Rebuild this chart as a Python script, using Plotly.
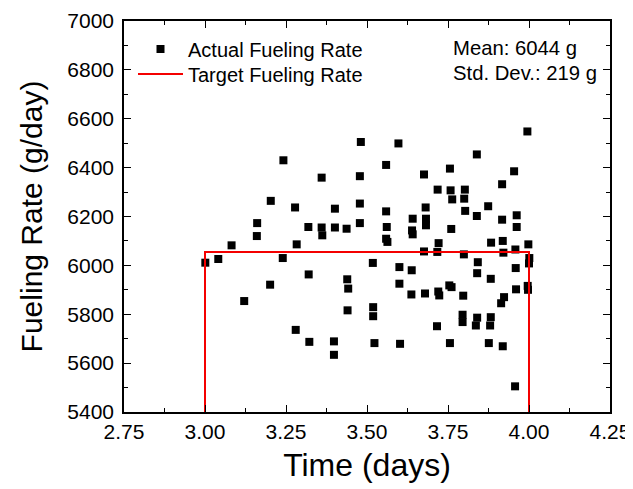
import plotly.graph_objects as go

# Actual fueling rate samples (time in days, rate in g/day)
time_days = [
    3.001, 3.041, 3.082, 3.121, 3.161, 3.160, 3.203, 3.201, 3.242, 3.240,
    3.278, 3.283, 3.280, 3.319, 3.320, 3.322, 3.360, 3.360, 3.362, 3.401,
    3.401, 3.398, 3.398, 3.437, 3.439, 3.442, 3.440, 3.481, 3.478, 3.478,
    3.478, 3.518, 3.519, 3.519, 3.523, 3.559, 3.559, 3.561, 3.559, 3.563,
    3.597, 3.600, 3.600, 3.602, 3.641, 3.639, 3.641, 3.638, 3.637, 3.676,
    3.681, 3.682, 3.682, 3.676, 3.679, 3.718, 3.721, 3.717, 3.720, 3.723,
    3.716, 3.756, 3.758, 3.763, 3.760, 3.754, 3.761, 3.756, 3.802, 3.800,
    3.803, 3.799, 3.797, 3.795, 3.795, 3.839, 3.839, 3.842, 3.840, 3.840,
    3.836, 3.874, 3.883, 3.882, 3.882, 3.880, 3.876, 3.917, 3.917, 3.919,
    3.921, 3.923, 3.914, 3.919, 3.954, 3.962, 3.962, 3.958, 3.959, 3.960,
    3.957, 3.995, 3.998, 4.001, 4.000, 3.996, 3.997,
]
fueling_rate = [
    6011, 6026, 6082, 5854, 6173, 6120, 6264, 5921, 6430, 6030,
    6237, 6086, 5736, 6157, 5963, 5687, 6359, 6155, 6123, 6232,
    6155, 5689, 5634, 6150, 5943, 5905, 5816, 6505, 6365, 6253,
    6173, 6010, 5829, 5792, 5682, 6411, 6221, 6157, 6109, 6096,
    6499, 5993, 5925, 5679, 6191, 6143, 6127, 5980, 5881, 6372,
    6237, 6191, 6164, 6057, 5885, 6310, 6091, 6055, 5893, 5877,
    5751, 6396, 6307, 6270, 6149, 5918, 5911, 5682, 6310, 6273,
    6223, 6045, 5876, 5798, 5768, 6454, 6202, 6013, 5968, 5786,
    5754, 6242, 6093, 5945, 5788, 5754, 5682, 6332, 6187, 6100,
    6052, 5870, 5845, 5669, 6385, 6205, 6157, 6065, 5989, 5902,
    5505, 6548, 6086, 6030, 6008, 5916, 5900,
]

# Target fueling rate profile
target_time = [3.0, 3.0, 4.0, 4.0]
target_rate = [5400, 6055, 6055, 5400]

stats_lines = ["Mean: 6044 g", "Std. Dev.: 219 g"]

FONT = "Liberation Sans, Arial, sans-serif"

# figure is drawn 8 px in from the page corner (default body margin)
W, H = 625, 481
L, R, T, B = 116, 23, 13, 77
PW, PH = W - L - R, H - T - B


def px_x(x):
    return (x - L) / PW


def px_y(y):
    return 1 - (y - T) / PH


fig = go.Figure()
fig.add_trace(go.Scatter(
    x=time_days, y=fueling_rate, mode="markers",
    name="Actual Fueling Rate", legend="legend",
    marker=dict(symbol="square", size=8, color="black", line=dict(width=0)),
))
fig.add_trace(go.Scatter(
    x=target_time, y=target_rate, mode="lines",
    name="Target Fueling Rate", legend="legend2",
    line=dict(color="#f40000", width=2),
))

for i, line in enumerate(stats_lines):
    fig.add_annotation(
        text=line, xref="paper", yref="paper",
        x=px_x(443), y=px_y(40 + 25 * i), xanchor="left", yanchor="middle",
        align="left", showarrow=False, font=dict(family=FONT, size=20.3, color="black"),
    )

axis_common = dict(
    showgrid=False, zeroline=False, showline=True, linecolor="black",
    linewidth=1.5, mirror="ticks", ticks="inside", ticklen=7, tickwidth=1.2,
    tickcolor="black", tickfont=dict(family=FONT, size=21, color="black"),
    automargin=False,
)

legend_common = dict(
    xanchor="left", yanchor="middle", bgcolor="rgba(0,0,0,0)",
    font=dict(family=FONT, size=20, color="black"), itemwidth=45,
)

fig.update_layout(
    width=W, height=H,
    margin=dict(l=L, r=R, t=T, b=B),
    paper_bgcolor="white", plot_bgcolor="white",
    font=dict(family=FONT, color="black"),
    showlegend=True,
    legend=dict(x=px_x(125), y=px_y(41), **legend_common),
    legend2=dict(x=px_x(125), y=px_y(66), **legend_common),
    xaxis=dict(
        range=[2.75, 4.25], dtick=0.25, tick0=2.75, tickformat=".2f",
        minor=dict(dtick=0.125, ticks="inside", ticklen=4, tickcolor="black", tickwidth=1.2),
        title=dict(text="Time (days)", font=dict(family=FONT, size=32), standoff=12),
        **axis_common,
    ),
    yaxis=dict(
        range=[5400, 7000], dtick=200, tick0=5400,
        minor=dict(dtick=100, ticks="inside", ticklen=4, tickcolor="black", tickwidth=1.2),
        title=dict(text="Fueling Rate (g/day)", font=dict(family=FONT, size=30), standoff=16),
        ticklabelstandoff=4,
        **axis_common,
    ),
)

fig.write_html("out.html")
